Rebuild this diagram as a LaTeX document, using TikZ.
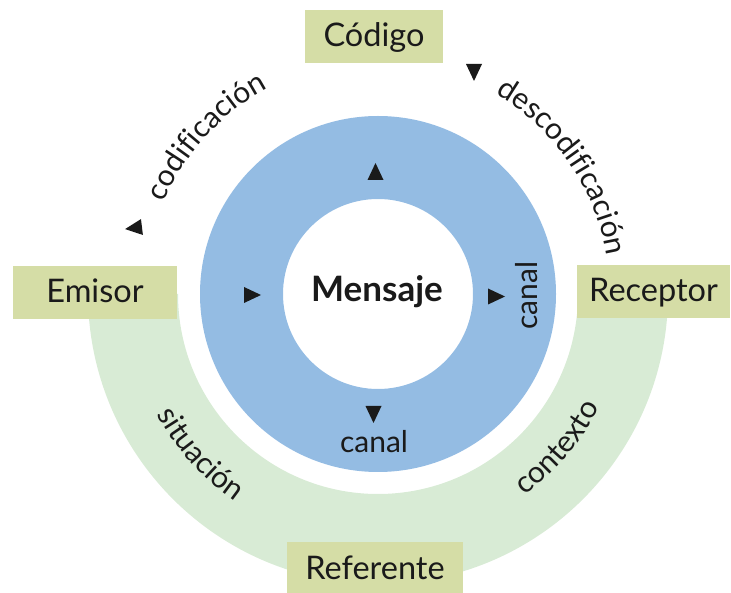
\documentclass[tikz,border=0pt]{standalone}
\usepackage{fontspec}
\setmainfont{Lato}
\usetikzlibrary{decorations.text}

\definecolor{ringblue}{HTML}{94BCE3}
\definecolor{boxgreen}{HTML}{D5DDA6}
\definecolor{bandgreen}{HTML}{D8EBD5}
\definecolor{ink}{HTML}{1A1A1A}
\newcommand\arcfont{\fontsize{30}{36}\selectfont}

\begin{document}
\begin{tikzpicture}[x=1pt,y=1pt,
  box/.style={fill=boxgreen,minimum width=#1,minimum height=53pt,inner sep=0pt,
    text height=21pt,text depth=0pt,text=ink,font=\fontsize{32.5}{38}\selectfont},
  label/.style={text=ink,font=\arcfont,inner sep=0pt,anchor=base},
  arctext/.style={decorate,decoration={text along path,text align=center,
    text color=ink,text={|\arcfont|#1}}}]
\useasboundingbox (0,0) rectangle (731,592);
\coordinate (c) at (378,298);

% band and ring
\fill[bandgreen] (c) ++(180:290pt) arc[start angle=180,end angle=360,radius=290pt]
  -- ++(-90pt,0) arc[start angle=0,end angle=-180,radius=200pt] -- cycle;
\fill[ringblue,even odd rule] (c) circle (178pt) (c) circle (95pt);

% boxes
\node[box=138pt] (codigo) at (374,555.5) {Código};
\node[box=164pt] (emisor) at (95,299.5) {Emisor};
\node[box=153pt] (receptor) at (653.5,300.5) {Receptor};
\node[box=176pt] (referente) at (375,23.5) {Referente};

% texts
\node[label,font=\fontsize{35}{40}\selectfont\bfseries] (mensaje) at (377,290) {Mensaje};
\node[label] (canalb) at (374,139) {canal};
\node[label,rotate=90] (canalr) at (537,296.5) {canal};

\path[arctext=codificación] (c) ++(177.5:233pt) arc[start angle=177.5,end angle=97.5,radius=233pt];
\path[arctext=descodificación] (c) ++(79.5:232pt) arc[start angle=79.5,end angle=-10.5,radius=232pt];
\path[arctext=situación] (c) ++(187:252pt) arc[start angle=187,end angle=257,radius=252pt];
\path[arctext=contexto] (c) ++(-75.5:249pt) arc[start angle=-75.5,end angle=-5.5,radius=249pt];

% triangles
\foreach \x/\y/\a in {375.5/420/90, 252/297/0, 496/295.5/0, 373.5/178/-90, 134/364/187, 474/520/-90}
\fill[ink,rotate around={\a:(\x,\y)}] (\x+9,\y) -- (\x-8,\y+8) -- (\x-8,\y-8) -- cycle;
\end{tikzpicture}
\end{document}
